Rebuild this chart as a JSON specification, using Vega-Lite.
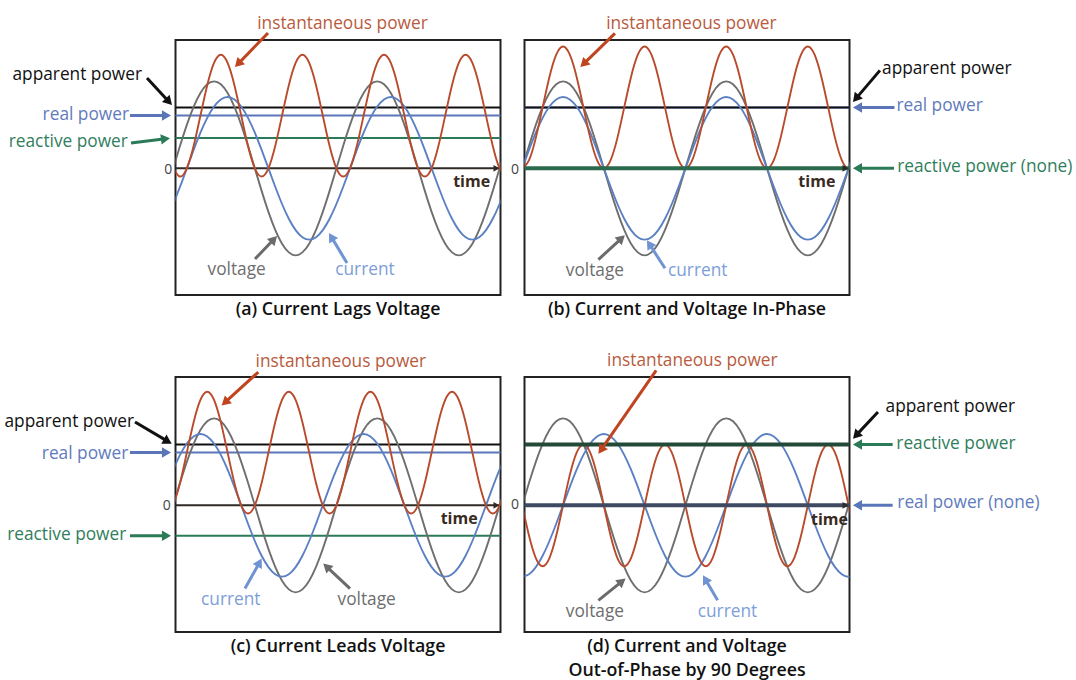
{
  "$schema": "https://vega.github.io/schema/vega-lite/v6.json",
  "background": "white",
  "padding": {"left": 2.5, "top": 14, "right": 5, "bottom": 5},
  "config": {
    "view": {"stroke": "#222222", "strokeWidth": 2},
    "font": "Open Sans",
    "title": {"font": "Open Sans", "fontSize": 17.8, "fontWeight": 600, "color": "#111111", "orient": "bottom", "anchor": "middle", "frame": "group", "offset": 6, "lineHeight": 24}
  },
  "datasets": {
    "volt": [
      {"t":0,"v":0},{"t":15,"v":25.9},{"t":30,"v":50},{"t":45,"v":70.7},{"t":60,"v":86.6},{"t":75,"v":96.6},{"t":90,"v":100},{"t":105,"v":96.6},{"t":120,"v":86.6},{"t":135,"v":70.7},{"t":150,"v":50},{"t":165,"v":25.9},{"t":180,"v":0},{"t":195,"v":-25.9},{"t":210,"v":-50},{"t":225,"v":-70.7},{"t":240,"v":-86.6},{"t":255,"v":-96.6},{"t":270,"v":-100},{"t":285,"v":-96.6},{"t":300,"v":-86.6},{"t":315,"v":-70.7},{"t":330,"v":-50},{"t":345,"v":-25.9},
      {"t":360,"v":0},{"t":375,"v":25.9},{"t":390,"v":50},{"t":405,"v":70.7},{"t":420,"v":86.6},{"t":435,"v":96.6},{"t":450,"v":100},{"t":465,"v":96.6},{"t":480,"v":86.6},{"t":495,"v":70.7},{"t":510,"v":50},{"t":525,"v":25.9},{"t":540,"v":0},{"t":555,"v":-25.9},{"t":570,"v":-50},{"t":585,"v":-70.7},{"t":600,"v":-86.6},{"t":615,"v":-96.6},{"t":630,"v":-100},{"t":645,"v":-96.6},{"t":660,"v":-86.6},{"t":675,"v":-70.7},{"t":690,"v":-50},{"t":705,"v":-25.9},{"t":720,"v":0},{"t":735,"v":25.9}
    ],
    "curves": [
      {"panel":"a","t":0,"i":-41,"p":0},{"panel":"a","t":15,"i":-21.2,"p":-9.4},{"panel":"a","t":30,"i":0,"p":0},{"panel":"a","t":45,"i":21.2,"p":25.6},{"panel":"a","t":60,"i":41,"p":60.6},{"panel":"a","t":75,"i":58,"p":95.6},{"panel":"a","t":90,"i":71,"p":121.2},{"panel":"a","t":105,"i":79.2,"p":130.6},{"panel":"a","t":120,"i":82,"p":121.2},{"panel":"a","t":135,"i":79.2,"p":95.6},{"panel":"a","t":150,"i":71,"p":60.6},{"panel":"a","t":165,"i":58,"p":25.6},
      {"panel":"a","t":180,"i":41,"p":0},{"panel":"a","t":195,"i":21.2,"p":-9.4},{"panel":"a","t":210,"i":0,"p":0},{"panel":"a","t":225,"i":-21.2,"p":25.6},{"panel":"a","t":240,"i":-41,"p":60.6},{"panel":"a","t":255,"i":-58,"p":95.6},{"panel":"a","t":270,"i":-71,"p":121.2},{"panel":"a","t":285,"i":-79.2,"p":130.6},{"panel":"a","t":300,"i":-82,"p":121.2},{"panel":"a","t":315,"i":-79.2,"p":95.6},{"panel":"a","t":330,"i":-71,"p":60.6},{"panel":"a","t":345,"i":-58,"p":25.6},
      {"panel":"a","t":360,"i":-41,"p":0},{"panel":"a","t":375,"i":-21.2,"p":-9.4},{"panel":"a","t":390,"i":0,"p":0},{"panel":"a","t":405,"i":21.2,"p":25.6},{"panel":"a","t":420,"i":41,"p":60.6},{"panel":"a","t":435,"i":58,"p":95.6},{"panel":"a","t":450,"i":71,"p":121.2},{"panel":"a","t":465,"i":79.2,"p":130.6},{"panel":"a","t":480,"i":82,"p":121.2},{"panel":"a","t":495,"i":79.2,"p":95.6},{"panel":"a","t":510,"i":71,"p":60.6},{"panel":"a","t":525,"i":58,"p":25.6},
      {"panel":"a","t":540,"i":41,"p":0},{"panel":"a","t":555,"i":21.2,"p":-9.4},{"panel":"a","t":570,"i":0,"p":0},{"panel":"a","t":585,"i":-21.2,"p":25.6},{"panel":"a","t":600,"i":-41,"p":60.6},{"panel":"a","t":615,"i":-58,"p":95.6},{"panel":"a","t":630,"i":-71,"p":121.2},{"panel":"a","t":645,"i":-79.2,"p":130.6},{"panel":"a","t":660,"i":-82,"p":121.2},{"panel":"a","t":675,"i":-79.2,"p":95.6},{"panel":"a","t":690,"i":-71,"p":60.6},{"panel":"a","t":705,"i":-58,"p":25.6},
      {"panel":"a","t":720,"i":-41,"p":0},{"panel":"a","t":735,"i":-21.2,"p":-9.4},

      {"panel":"b","t":0,"i":0,"p":0},{"panel":"b","t":15,"i":21.2,"p":9.4},{"panel":"b","t":30,"i":41,"p":35},{"panel":"b","t":45,"i":58,"p":70},{"panel":"b","t":60,"i":71,"p":105},{"panel":"b","t":75,"i":79.2,"p":130.6},{"panel":"b","t":90,"i":82,"p":140},{"panel":"b","t":105,"i":79.2,"p":130.6},{"panel":"b","t":120,"i":71,"p":105},{"panel":"b","t":135,"i":58,"p":70},{"panel":"b","t":150,"i":41,"p":35},{"panel":"b","t":165,"i":21.2,"p":9.4},
      {"panel":"b","t":180,"i":0,"p":0},{"panel":"b","t":195,"i":-21.2,"p":9.4},{"panel":"b","t":210,"i":-41,"p":35},{"panel":"b","t":225,"i":-58,"p":70},{"panel":"b","t":240,"i":-71,"p":105},{"panel":"b","t":255,"i":-79.2,"p":130.6},{"panel":"b","t":270,"i":-82,"p":140},{"panel":"b","t":285,"i":-79.2,"p":130.6},{"panel":"b","t":300,"i":-71,"p":105},{"panel":"b","t":315,"i":-58,"p":70},{"panel":"b","t":330,"i":-41,"p":35},{"panel":"b","t":345,"i":-21.2,"p":9.4},
      {"panel":"b","t":360,"i":0,"p":0},{"panel":"b","t":375,"i":21.2,"p":9.4},{"panel":"b","t":390,"i":41,"p":35},{"panel":"b","t":405,"i":58,"p":70},{"panel":"b","t":420,"i":71,"p":105},{"panel":"b","t":435,"i":79.2,"p":130.6},{"panel":"b","t":450,"i":82,"p":140},{"panel":"b","t":465,"i":79.2,"p":130.6},{"panel":"b","t":480,"i":71,"p":105},{"panel":"b","t":495,"i":58,"p":70},{"panel":"b","t":510,"i":41,"p":35},{"panel":"b","t":525,"i":21.2,"p":9.4},
      {"panel":"b","t":540,"i":0,"p":0},{"panel":"b","t":555,"i":-21.2,"p":9.4},{"panel":"b","t":570,"i":-41,"p":35},{"panel":"b","t":585,"i":-58,"p":70},{"panel":"b","t":600,"i":-71,"p":105},{"panel":"b","t":615,"i":-79.2,"p":130.6},{"panel":"b","t":630,"i":-82,"p":140},{"panel":"b","t":645,"i":-79.2,"p":130.6},{"panel":"b","t":660,"i":-71,"p":105},{"panel":"b","t":675,"i":-58,"p":70},{"panel":"b","t":690,"i":-41,"p":35},{"panel":"b","t":705,"i":-21.2,"p":9.4},
      {"panel":"b","t":720,"i":0,"p":0},{"panel":"b","t":735,"i":21.2,"p":9.4},

      {"panel":"c","t":0,"i":41,"p":0},{"panel":"c","t":15,"i":58,"p":25.6},{"panel":"c","t":30,"i":71,"p":60.6},{"panel":"c","t":45,"i":79.2,"p":95.6},{"panel":"c","t":60,"i":82,"p":121.2},{"panel":"c","t":75,"i":79.2,"p":130.6},{"panel":"c","t":90,"i":71,"p":121.2},{"panel":"c","t":105,"i":58,"p":95.6},{"panel":"c","t":120,"i":41,"p":60.6},{"panel":"c","t":135,"i":21.2,"p":25.6},{"panel":"c","t":150,"i":0,"p":0},{"panel":"c","t":165,"i":-21.2,"p":-9.4},
      {"panel":"c","t":180,"i":-41,"p":0},{"panel":"c","t":195,"i":-58,"p":25.6},{"panel":"c","t":210,"i":-71,"p":60.6},{"panel":"c","t":225,"i":-79.2,"p":95.6},{"panel":"c","t":240,"i":-82,"p":121.2},{"panel":"c","t":255,"i":-79.2,"p":130.6},{"panel":"c","t":270,"i":-71,"p":121.2},{"panel":"c","t":285,"i":-58,"p":95.6},{"panel":"c","t":300,"i":-41,"p":60.6},{"panel":"c","t":315,"i":-21.2,"p":25.6},{"panel":"c","t":330,"i":0,"p":0},{"panel":"c","t":345,"i":21.2,"p":-9.4},
      {"panel":"c","t":360,"i":41,"p":0},{"panel":"c","t":375,"i":58,"p":25.6},{"panel":"c","t":390,"i":71,"p":60.6},{"panel":"c","t":405,"i":79.2,"p":95.6},{"panel":"c","t":420,"i":82,"p":121.2},{"panel":"c","t":435,"i":79.2,"p":130.6},{"panel":"c","t":450,"i":71,"p":121.2},{"panel":"c","t":465,"i":58,"p":95.6},{"panel":"c","t":480,"i":41,"p":60.6},{"panel":"c","t":495,"i":21.2,"p":25.6},{"panel":"c","t":510,"i":0,"p":0},{"panel":"c","t":525,"i":-21.2,"p":-9.4},
      {"panel":"c","t":540,"i":-41,"p":0},{"panel":"c","t":555,"i":-58,"p":25.6},{"panel":"c","t":570,"i":-71,"p":60.6},{"panel":"c","t":585,"i":-79.2,"p":95.6},{"panel":"c","t":600,"i":-82,"p":121.2},{"panel":"c","t":615,"i":-79.2,"p":130.6},{"panel":"c","t":630,"i":-71,"p":121.2},{"panel":"c","t":645,"i":-58,"p":95.6},{"panel":"c","t":660,"i":-41,"p":60.6},{"panel":"c","t":675,"i":-21.2,"p":25.6},{"panel":"c","t":690,"i":0,"p":0},{"panel":"c","t":705,"i":21.2,"p":-9.4},
      {"panel":"c","t":720,"i":41,"p":0},{"panel":"c","t":735,"i":58,"p":25.6},

      {"panel":"d","t":0,"i":-82,"p":0},{"panel":"d","t":15,"i":-79.2,"p":-35},{"panel":"d","t":30,"i":-71,"p":-60.6},{"panel":"d","t":45,"i":-58,"p":-70},{"panel":"d","t":60,"i":-41,"p":-60.6},{"panel":"d","t":75,"i":-21.2,"p":-35},{"panel":"d","t":90,"i":0,"p":0},{"panel":"d","t":105,"i":21.2,"p":35},{"panel":"d","t":120,"i":41,"p":60.6},{"panel":"d","t":135,"i":58,"p":70},{"panel":"d","t":150,"i":71,"p":60.6},{"panel":"d","t":165,"i":79.2,"p":35},
      {"panel":"d","t":180,"i":82,"p":0},{"panel":"d","t":195,"i":79.2,"p":-35},{"panel":"d","t":210,"i":71,"p":-60.6},{"panel":"d","t":225,"i":58,"p":-70},{"panel":"d","t":240,"i":41,"p":-60.6},{"panel":"d","t":255,"i":21.2,"p":-35},{"panel":"d","t":270,"i":0,"p":0},{"panel":"d","t":285,"i":-21.2,"p":35},{"panel":"d","t":300,"i":-41,"p":60.6},{"panel":"d","t":315,"i":-58,"p":70},{"panel":"d","t":330,"i":-71,"p":60.6},{"panel":"d","t":345,"i":-79.2,"p":35},
      {"panel":"d","t":360,"i":-82,"p":0},{"panel":"d","t":375,"i":-79.2,"p":-35},{"panel":"d","t":390,"i":-71,"p":-60.6},{"panel":"d","t":405,"i":-58,"p":-70},{"panel":"d","t":420,"i":-41,"p":-60.6},{"panel":"d","t":435,"i":-21.2,"p":-35},{"panel":"d","t":450,"i":0,"p":0},{"panel":"d","t":465,"i":21.2,"p":35},{"panel":"d","t":480,"i":41,"p":60.6},{"panel":"d","t":495,"i":58,"p":70},{"panel":"d","t":510,"i":71,"p":60.6},{"panel":"d","t":525,"i":79.2,"p":35},
      {"panel":"d","t":540,"i":82,"p":0},{"panel":"d","t":555,"i":79.2,"p":-35},{"panel":"d","t":570,"i":71,"p":-60.6},{"panel":"d","t":585,"i":58,"p":-70},{"panel":"d","t":600,"i":41,"p":-60.6},{"panel":"d","t":615,"i":21.2,"p":-35},{"panel":"d","t":630,"i":0,"p":0},{"panel":"d","t":645,"i":-21.2,"p":35},{"panel":"d","t":660,"i":-41,"p":60.6},{"panel":"d","t":675,"i":-58,"p":70},{"panel":"d","t":690,"i":-71,"p":60.6},{"panel":"d","t":705,"i":-79.2,"p":35},
      {"panel":"d","t":720,"i":-82,"p":0},{"panel":"d","t":735,"i":-79.2,"p":-35}
    ],
    "hlines": [
      {"panel":"a","kind":"zero","y":0},{"panel":"a","kind":"reactive","y":35},{"panel":"a","kind":"real","y":60.6},{"panel":"a","kind":"apparent","y":70},
      {"panel":"b","kind":"zero","y":0},{"panel":"b","kind":"real","y":70},{"panel":"b","kind":"apparent","y":70},{"panel":"b","kind":"reactive-none","y":0},
      {"panel":"c","kind":"zero","y":0},{"panel":"c","kind":"reactive","y":-35},{"panel":"c","kind":"real","y":60.6},{"panel":"c","kind":"apparent","y":70},
      {"panel":"d","kind":"zero","y":0},{"panel":"d","kind":"apparent","y":70},{"panel":"d","kind":"real-none","y":0},{"panel":"d","kind":"reactive-thick","y":70}
    ],
    "ann": [
      {"panel":"a","grp":"power","t":209.1,"y":155.5,"t2":143.1,"y2":120.1,"ang":224},
      {"panel":"a","grp":"apparent","t":-57.9,"y":103.8,"t2":-9.6,"y2":76.5,"ang":137},
      {"panel":"a","grp":"real","t":-95.4,"y":60.6,"t2":-14.9,"y2":60.6,"ang":90},
      {"panel":"a","grp":"reactive","t":-93.2,"y":29.1,"t2":-17.1,"y2":33.9,"ang":83},
      {"panel":"a","grp":"voltage","t":180.4,"y":-104.2,"t2":222.1,"y2":-81.6,"ang":44},
      {"panel":"a","grp":"current","t":383.3,"y":-108.8,"t2":348.7,"y2":-78.8,"ang":329},
      {"panel":"a","grp":"axis","t":713,"y":0,"t2":713,"y2":0,"ang":90},
      {"panel":"b","grp":"power","t":204.6,"y":155.1,"t2":135.4,"y2":120,"ang":226},
      {"panel":"b","grp":"apparent","t":789.2,"y":112.6,"t2":736.1,"y2":80.1,"ang":220},
      {"panel":"b","grp":"real","t":821.2,"y":70,"t2":739.6,"y2":70,"ang":270},
      {"panel":"b","grp":"reactive","t":820.1,"y":0,"t2":739.6,"y2":0,"ang":270},
      {"panel":"b","grp":"voltage","t":168,"y":-104.9,"t2":219,"y2":-80.4,"ang":47},
      {"panel":"b","grp":"current","t":314.9,"y":-114.9,"t2":280.5,"y2":-87.1,"ang":327},
      {"panel":"b","grp":"axis","t":713,"y":0,"t2":713,"y2":0,"ang":90},
      {"panel":"c","grp":"power","t":187.7,"y":153.2,"t2":114.2,"y2":118.3,"ang":228},
      {"panel":"c","grp":"apparent","t":-84.3,"y":95.7,"t2":-12,"y2":73.5,"ang":120},
      {"panel":"c","grp":"real","t":-95.4,"y":60.6,"t2":-14.9,"y2":60.6,"ang":90},
      {"panel":"c","grp":"reactive","t":-95.4,"y":-35,"t2":-14.9,"y2":-35,"ang":90},
      {"panel":"c","grp":"current","t":158.3,"y":-95.7,"t2":190.3,"y2":-65.7,"ang":29},
      {"panel":"c","grp":"voltage","t":390,"y":-95.7,"t2":338.3,"y2":-70.5,"ang":313},
      {"panel":"c","grp":"axis","t":713,"y":0,"t2":713,"y2":0,"ang":90},
      {"panel":"d","grp":"power","t":295.5,"y":155.1,"t2":173.8,"y2":63.7,"ang":215},
      {"panel":"d","grp":"apparent","t":784.8,"y":107.2,"t2":736.5,"y2":80.4,"ang":223},
      {"panel":"d","grp":"reactive","t":817.2,"y":70,"t2":739.6,"y2":70,"ang":270},
      {"panel":"d","grp":"real","t":817.2,"y":0,"t2":739.6,"y2":0,"ang":270},
      {"panel":"d","grp":"voltage","t":168,"y":-109.2,"t2":220.1,"y2":-87.4,"ang":51},
      {"panel":"d","grp":"current","t":431,"y":-109.2,"t2":403.8,"y2":-84.9,"ang":330},
      {"panel":"d","grp":"axis","t":713,"y":0,"t2":713,"y2":0,"ang":90}
    ],
    "labels": [
      {"panel":"a","label":"instantaneous power","grp":"power","t":373.4,"y":165.8},
      {"panel":"a","label":"apparent power","grp":"apparent","t":-211.8,"y":107.2},
      {"panel":"a","label":"real power","grp":"real","t":-192.9,"y":61.2},
      {"panel":"a","label":"reactive power","grp":"reactive","t":-231.5,"y":30.6},
      {"panel":"a","label":"0","grp":"zero","t":-10.9,"y":-2},
      {"panel":"a","label":"time","grp":"time","t":658.4,"y":-15.4},
      {"panel":"a","label":"voltage","grp":"voltage","t":140,"y":-116.9},
      {"panel":"a","label":"current","grp":"current","t":423,"y":-116.9},
      {"panel":"b","label":"instantaneous power","grp":"power","t":373.2,"y":165.5},
      {"panel":"b","label":"apparent power","grp":"apparent","t":936.6,"y":114.6},
      {"panel":"b","label":"real power","grp":"real","t":920.7,"y":71.2},
      {"panel":"b","label":"reactive power (none)","grp":"reactive","t":1020.4,"y":1.5},
      {"panel":"b","label":"0","grp":"zero","t":-16,"y":-2},
      {"panel":"b","label":"time","grp":"time","t":650,"y":-15.7},
      {"panel":"b","label":"voltage","grp":"voltage","t":160.3,"y":-118},
      {"panel":"b","label":"current","grp":"current","t":387.1,"y":-118},
      {"panel":"c","label":"instantaneous power","grp":"power","t":369.7,"y":164.7},
      {"panel":"c","label":"apparent power","grp":"apparent","t":-229.5,"y":95.7},
      {"panel":"c","label":"real power","grp":"real","t":-194.6,"y":59.4},
      {"panel":"c","label":"reactive power","grp":"reactive","t":-235,"y":-34.5},
      {"panel":"c","label":"0","grp":"zero","t":-14.4,"y":-0.8},
      {"panel":"c","label":"time","grp":"time","t":630.8,"y":-15.3},
      {"panel":"c","label":"current","grp":"current","t":127,"y":-108.4},
      {"panel":"c","label":"voltage","grp":"voltage","t":426.8,"y":-108.4},
      {"panel":"d","label":"instantaneous power","grp":"power","t":375.2,"y":165.8},
      {"panel":"d","label":"apparent power","grp":"apparent","t":944.5,"y":112.9},
      {"panel":"d","label":"reactive power","grp":"reactive","t":956.7,"y":70.9},
      {"panel":"d","label":"real power (none)","grp":"real","t":984.5,"y":3.1},
      {"panel":"d","label":"0","grp":"zero","t":-16,"y":0},
      {"panel":"d","label":"time","grp":"time","t":677.8,"y":-17.2},
      {"panel":"d","label":"voltage","grp":"voltage","t":160.3,"y":-122.6},
      {"panel":"d","label":"current","grp":"current","t":452.8,"y":-122.6}
    ]
  },
  "columns": 2,
  "bounds": "flush",
  "spacing": {"row": 82, "column": 24},
  "concat": [
    {
      "width": 325, "height": 255,
      "title": {"text": "(a) Current Lags Voltage", "orient": "bottom", "frame": "group", "anchor": "middle"},
      "layer": [
        {"data": {"name": "hlines"}, "transform": [{"filter": "datum.panel === 'a' && indexof(['zero','apparent','real','reactive'], datum.kind) >= 0"}],
         "mark": {"type": "rule", "strokeWidth": 2},
         "encoding": {"y": {"field": "y", "type": "quantitative", "scale": {"domain": [-145.6, 147.5], "nice": false, "zero": false}, "axis": null},
                      "color": {"field": "kind", "type": "nominal", "legend": null, "scale": {"domain": ["zero","apparent","real","reactive","real-none","reactive-none","reactive-thick","power","voltage","current","axis"], "range": ["#2f2a26","#111111","#5a76b8","#2b7a58","#3e4a62","#2b6a4c","#234a38","#c0441f","#6b6b6b","#6f93d3","#2f2a26"]}}}},
        {"data": {"name": "volt"}, "mark": {"type": "line", "color": "#6f6f6f", "strokeWidth": 1.9, "interpolate": "natural", "clip": true},
         "encoding": {"x": {"field": "t", "type": "quantitative", "scale": {"domain": [5, 722], "nice": false, "zero": false}, "axis": null},
                      "y": {"field": "v", "type": "quantitative", "scale": {"domain": [-145.6, 147.5], "nice": false, "zero": false}, "axis": null}}},
        {"data": {"name": "curves"}, "transform": [{"filter": "datum.panel === 'a'"}], "mark": {"type": "line", "color": "#5b80c3", "strokeWidth": 1.9, "interpolate": "natural", "clip": true},
         "encoding": {"x": {"field": "t", "type": "quantitative", "scale": {"domain": [5, 722], "nice": false, "zero": false}, "axis": null},
                      "y": {"field": "i", "type": "quantitative", "scale": {"domain": [-145.6, 147.5], "nice": false, "zero": false}, "axis": null}}},
        {"data": {"name": "curves"}, "transform": [{"filter": "datum.panel === 'a'"}], "mark": {"type": "line", "color": "#b94b2d", "strokeWidth": 1.9, "interpolate": "natural", "clip": true},
         "encoding": {"x": {"field": "t", "type": "quantitative", "scale": {"domain": [5, 722], "nice": false, "zero": false}, "axis": null},
                      "y": {"field": "p", "type": "quantitative", "scale": {"domain": [-145.6, 147.5], "nice": false, "zero": false}, "axis": null}}},
        {"data": {"name": "hlines"}, "transform": [{"filter": "datum.panel === 'a' && indexof(['real-none','reactive-none','reactive-thick'], datum.kind) >= 0"}],
         "mark": {"type": "rule", "strokeWidth": 4},
         "encoding": {"y": {"field": "y", "type": "quantitative", "scale": {"domain": [-145.6, 147.5], "nice": false, "zero": false}, "axis": null},
                      "color": {"field": "kind", "type": "nominal", "legend": null, "scale": {"domain": ["zero","apparent","real","reactive","real-none","reactive-none","reactive-thick","power","voltage","current","axis"], "range": ["#2f2a26","#111111","#5a76b8","#2b7a58","#3e4a62","#2b6a4c","#234a38","#c0441f","#6b6b6b","#6f93d3","#2f2a26"]}}}},
        {"data": {"name": "ann"}, "transform": [{"filter": "datum.panel === 'a' && datum.grp !== 'axis'"}],
         "mark": {"type": "rule", "strokeWidth": 3},
         "encoding": {"x": {"field": "t", "type": "quantitative", "scale": {"domain": [5, 722], "nice": false, "zero": false}, "axis": null},
                      "y": {"field": "y", "type": "quantitative", "scale": {"domain": [-145.6, 147.5], "nice": false, "zero": false}, "axis": null},
                      "x2": {"field": "t2"}, "y2": {"field": "y2"},
                      "color": {"field": "grp", "type": "nominal", "legend": null, "scale": {"domain": ["zero","apparent","real","reactive","real-none","reactive-none","reactive-thick","power","voltage","current","axis"], "range": ["#2f2a26","#111111","#5a76b8","#2b7a58","#3e4a62","#2b6a4c","#234a38","#c0441f","#6b6b6b","#6f93d3","#2f2a26"]}}}},
        {"data": {"name": "ann"}, "transform": [{"filter": "datum.panel === 'a' && datum.grp !== 'axis'"}],
         "mark": {"type": "point", "shape": "triangle-up", "filled": true, "size": 110, "opacity": 1},
         "encoding": {"x": {"field": "t2", "type": "quantitative", "scale": {"domain": [5, 722], "nice": false, "zero": false}, "axis": null},
                      "y": {"field": "y2", "type": "quantitative", "scale": {"domain": [-145.6, 147.5], "nice": false, "zero": false}, "axis": null},
                      "angle": {"field": "ang", "type": "quantitative", "scale": null},
                      "color": {"field": "grp", "type": "nominal", "legend": null, "scale": {"domain": ["zero","apparent","real","reactive","real-none","reactive-none","reactive-thick","power","voltage","current","axis"], "range": ["#2f2a26","#111111","#5a76b8","#2b7a58","#3e4a62","#2b6a4c","#234a38","#c0441f","#6b6b6b","#6f93d3","#2f2a26"]}}}},
        {"data": {"name": "ann"}, "transform": [{"filter": "datum.panel === 'a' && datum.grp === 'axis'"}],
         "mark": {"type": "point", "shape": "triangle-up", "filled": true, "size": 45, "opacity": 1, "color": "#2f2a26"},
         "encoding": {"x": {"field": "t2", "type": "quantitative", "scale": {"domain": [5, 722], "nice": false, "zero": false}, "axis": null},
                      "y": {"field": "y2", "type": "quantitative", "scale": {"domain": [-145.6, 147.5], "nice": false, "zero": false}, "axis": null},
                      "angle": {"field": "ang", "type": "quantitative", "scale": null}}},
        {"data": {"name": "labels"}, "transform": [{"filter": "datum.panel === 'a' && datum.grp !== 'time' && datum.grp !== 'zero'"}],
         "mark": {"type": "text", "fontSize": 17.3, "align": "center", "baseline": "middle"},
         "encoding": {"x": {"field": "t", "type": "quantitative", "scale": {"domain": [5, 722], "nice": false, "zero": false}, "axis": null},
                      "y": {"field": "y", "type": "quantitative", "scale": {"domain": [-145.6, 147.5], "nice": false, "zero": false}, "axis": null},
                      "text": {"field": "label"},
                      "fill": {"field": "grp", "type": "nominal", "legend": null, "scale": {"domain": ["power","apparent","real","reactive","voltage","current","time","zero"], "range": ["#b85b3e","#111111","#5f7bbd","#307e5c","#6e6e6e","#7d9ed8","#3a2a1e","#444444"]}}}},
        {"data": {"name": "labels"}, "transform": [{"filter": "datum.panel === 'a' && datum.grp === 'time'"}],
         "mark": {"type": "text", "fontSize": 16, "fontWeight": "bold", "align": "center", "baseline": "middle", "color": "#3a2a1e"},
         "encoding": {"x": {"field": "t", "type": "quantitative", "scale": {"domain": [5, 722], "nice": false, "zero": false}, "axis": null},
                      "y": {"field": "y", "type": "quantitative", "scale": {"domain": [-145.6, 147.5], "nice": false, "zero": false}, "axis": null},
                      "text": {"field": "label"}}},
        {"data": {"name": "labels"}, "transform": [{"filter": "datum.panel === 'a' && datum.grp === 'zero'"}],
         "mark": {"type": "text", "fontSize": 14, "align": "center", "baseline": "middle", "color": "#444444"},
         "encoding": {"x": {"field": "t", "type": "quantitative", "scale": {"domain": [5, 722], "nice": false, "zero": false}, "axis": null},
                      "y": {"field": "y", "type": "quantitative", "scale": {"domain": [-145.6, 147.5], "nice": false, "zero": false}, "axis": null},
                      "text": {"field": "label"}}}
      ]
    },
    {
      "width": 325, "height": 255,
      "title": {"text": "(b) Current and Voltage In-Phase", "orient": "bottom", "frame": "group", "anchor": "middle"},
      "layer": [
        {"data": {"name": "hlines"}, "transform": [{"filter": "datum.panel === 'b' && indexof(['zero','apparent','real','reactive'], datum.kind) >= 0"}],
         "mark": {"type": "rule", "strokeWidth": 2},
         "encoding": {"y": {"field": "y", "type": "quantitative", "scale": {"domain": [-145.6, 147.5], "nice": false, "zero": false}, "axis": null},
                      "color": {"field": "kind", "type": "nominal", "legend": null, "scale": {"domain": ["zero","apparent","real","reactive","real-none","reactive-none","reactive-thick","power","voltage","current","axis"], "range": ["#2f2a26","#111111","#5a76b8","#2b7a58","#3e4a62","#2b6a4c","#234a38","#c0441f","#6b6b6b","#6f93d3","#2f2a26"]}}}},
        {"data": {"name": "volt"}, "mark": {"type": "line", "color": "#6f6f6f", "strokeWidth": 1.9, "interpolate": "natural", "clip": true},
         "encoding": {"x": {"field": "t", "type": "quantitative", "scale": {"domain": [5, 722], "nice": false, "zero": false}, "axis": null},
                      "y": {"field": "v", "type": "quantitative", "scale": {"domain": [-145.6, 147.5], "nice": false, "zero": false}, "axis": null}}},
        {"data": {"name": "curves"}, "transform": [{"filter": "datum.panel === 'b'"}], "mark": {"type": "line", "color": "#5b80c3", "strokeWidth": 1.9, "interpolate": "natural", "clip": true},
         "encoding": {"x": {"field": "t", "type": "quantitative", "scale": {"domain": [5, 722], "nice": false, "zero": false}, "axis": null},
                      "y": {"field": "i", "type": "quantitative", "scale": {"domain": [-145.6, 147.5], "nice": false, "zero": false}, "axis": null}}},
        {"data": {"name": "curves"}, "transform": [{"filter": "datum.panel === 'b'"}], "mark": {"type": "line", "color": "#b94b2d", "strokeWidth": 1.9, "interpolate": "natural", "clip": true},
         "encoding": {"x": {"field": "t", "type": "quantitative", "scale": {"domain": [5, 722], "nice": false, "zero": false}, "axis": null},
                      "y": {"field": "p", "type": "quantitative", "scale": {"domain": [-145.6, 147.5], "nice": false, "zero": false}, "axis": null}}},
        {"data": {"name": "hlines"}, "transform": [{"filter": "datum.panel === 'b' && indexof(['real-none','reactive-none','reactive-thick'], datum.kind) >= 0"}],
         "mark": {"type": "rule", "strokeWidth": 4},
         "encoding": {"y": {"field": "y", "type": "quantitative", "scale": {"domain": [-145.6, 147.5], "nice": false, "zero": false}, "axis": null},
                      "color": {"field": "kind", "type": "nominal", "legend": null, "scale": {"domain": ["zero","apparent","real","reactive","real-none","reactive-none","reactive-thick","power","voltage","current","axis"], "range": ["#2f2a26","#111111","#5a76b8","#2b7a58","#3e4a62","#2b6a4c","#234a38","#c0441f","#6b6b6b","#6f93d3","#2f2a26"]}}}},
        {"data": {"name": "ann"}, "transform": [{"filter": "datum.panel === 'b' && datum.grp !== 'axis'"}],
         "mark": {"type": "rule", "strokeWidth": 3},
         "encoding": {"x": {"field": "t", "type": "quantitative", "scale": {"domain": [5, 722], "nice": false, "zero": false}, "axis": null},
                      "y": {"field": "y", "type": "quantitative", "scale": {"domain": [-145.6, 147.5], "nice": false, "zero": false}, "axis": null},
                      "x2": {"field": "t2"}, "y2": {"field": "y2"},
                      "color": {"field": "grp", "type": "nominal", "legend": null, "scale": {"domain": ["zero","apparent","real","reactive","real-none","reactive-none","reactive-thick","power","voltage","current","axis"], "range": ["#2f2a26","#111111","#5a76b8","#2b7a58","#3e4a62","#2b6a4c","#234a38","#c0441f","#6b6b6b","#6f93d3","#2f2a26"]}}}},
        {"data": {"name": "ann"}, "transform": [{"filter": "datum.panel === 'b' && datum.grp !== 'axis'"}],
         "mark": {"type": "point", "shape": "triangle-up", "filled": true, "size": 110, "opacity": 1},
         "encoding": {"x": {"field": "t2", "type": "quantitative", "scale": {"domain": [5, 722], "nice": false, "zero": false}, "axis": null},
                      "y": {"field": "y2", "type": "quantitative", "scale": {"domain": [-145.6, 147.5], "nice": false, "zero": false}, "axis": null},
                      "angle": {"field": "ang", "type": "quantitative", "scale": null},
                      "color": {"field": "grp", "type": "nominal", "legend": null, "scale": {"domain": ["zero","apparent","real","reactive","real-none","reactive-none","reactive-thick","power","voltage","current","axis"], "range": ["#2f2a26","#111111","#5a76b8","#2b7a58","#3e4a62","#2b6a4c","#234a38","#c0441f","#6b6b6b","#6f93d3","#2f2a26"]}}}},
        {"data": {"name": "ann"}, "transform": [{"filter": "datum.panel === 'b' && datum.grp === 'axis'"}],
         "mark": {"type": "point", "shape": "triangle-up", "filled": true, "size": 45, "opacity": 1, "color": "#2f2a26"},
         "encoding": {"x": {"field": "t2", "type": "quantitative", "scale": {"domain": [5, 722], "nice": false, "zero": false}, "axis": null},
                      "y": {"field": "y2", "type": "quantitative", "scale": {"domain": [-145.6, 147.5], "nice": false, "zero": false}, "axis": null},
                      "angle": {"field": "ang", "type": "quantitative", "scale": null}}},
        {"data": {"name": "labels"}, "transform": [{"filter": "datum.panel === 'b' && datum.grp !== 'time' && datum.grp !== 'zero'"}],
         "mark": {"type": "text", "fontSize": 17.3, "align": "center", "baseline": "middle"},
         "encoding": {"x": {"field": "t", "type": "quantitative", "scale": {"domain": [5, 722], "nice": false, "zero": false}, "axis": null},
                      "y": {"field": "y", "type": "quantitative", "scale": {"domain": [-145.6, 147.5], "nice": false, "zero": false}, "axis": null},
                      "text": {"field": "label"},
                      "fill": {"field": "grp", "type": "nominal", "legend": null, "scale": {"domain": ["power","apparent","real","reactive","voltage","current","time","zero"], "range": ["#b85b3e","#111111","#5f7bbd","#307e5c","#6e6e6e","#7d9ed8","#3a2a1e","#444444"]}}}},
        {"data": {"name": "labels"}, "transform": [{"filter": "datum.panel === 'b' && datum.grp === 'time'"}],
         "mark": {"type": "text", "fontSize": 16, "fontWeight": "bold", "align": "center", "baseline": "middle", "color": "#3a2a1e"},
         "encoding": {"x": {"field": "t", "type": "quantitative", "scale": {"domain": [5, 722], "nice": false, "zero": false}, "axis": null},
                      "y": {"field": "y", "type": "quantitative", "scale": {"domain": [-145.6, 147.5], "nice": false, "zero": false}, "axis": null},
                      "text": {"field": "label"}}},
        {"data": {"name": "labels"}, "transform": [{"filter": "datum.panel === 'b' && datum.grp === 'zero'"}],
         "mark": {"type": "text", "fontSize": 14, "align": "center", "baseline": "middle", "color": "#444444"},
         "encoding": {"x": {"field": "t", "type": "quantitative", "scale": {"domain": [5, 722], "nice": false, "zero": false}, "axis": null},
                      "y": {"field": "y", "type": "quantitative", "scale": {"domain": [-145.6, 147.5], "nice": false, "zero": false}, "axis": null},
                      "text": {"field": "label"}}}
      ]
    },
    {
      "width": 325, "height": 255,
      "title": {"text": "(c) Current Leads Voltage", "orient": "bottom", "frame": "group", "anchor": "middle"},
      "layer": [
        {"data": {"name": "hlines"}, "transform": [{"filter": "datum.panel === 'c' && indexof(['zero','apparent','real','reactive'], datum.kind) >= 0"}],
         "mark": {"type": "rule", "strokeWidth": 2},
         "encoding": {"y": {"field": "y", "type": "quantitative", "scale": {"domain": [-145.6, 147.5], "nice": false, "zero": false}, "axis": null},
                      "color": {"field": "kind", "type": "nominal", "legend": null, "scale": {"domain": ["zero","apparent","real","reactive","real-none","reactive-none","reactive-thick","power","voltage","current","axis"], "range": ["#2f2a26","#111111","#5a76b8","#2b7a58","#3e4a62","#2b6a4c","#234a38","#c0441f","#6b6b6b","#6f93d3","#2f2a26"]}}}},
        {"data": {"name": "volt"}, "mark": {"type": "line", "color": "#6f6f6f", "strokeWidth": 1.9, "interpolate": "natural", "clip": true},
         "encoding": {"x": {"field": "t", "type": "quantitative", "scale": {"domain": [5, 722], "nice": false, "zero": false}, "axis": null},
                      "y": {"field": "v", "type": "quantitative", "scale": {"domain": [-145.6, 147.5], "nice": false, "zero": false}, "axis": null}}},
        {"data": {"name": "curves"}, "transform": [{"filter": "datum.panel === 'c'"}], "mark": {"type": "line", "color": "#5b80c3", "strokeWidth": 1.9, "interpolate": "natural", "clip": true},
         "encoding": {"x": {"field": "t", "type": "quantitative", "scale": {"domain": [5, 722], "nice": false, "zero": false}, "axis": null},
                      "y": {"field": "i", "type": "quantitative", "scale": {"domain": [-145.6, 147.5], "nice": false, "zero": false}, "axis": null}}},
        {"data": {"name": "curves"}, "transform": [{"filter": "datum.panel === 'c'"}], "mark": {"type": "line", "color": "#b94b2d", "strokeWidth": 1.9, "interpolate": "natural", "clip": true},
         "encoding": {"x": {"field": "t", "type": "quantitative", "scale": {"domain": [5, 722], "nice": false, "zero": false}, "axis": null},
                      "y": {"field": "p", "type": "quantitative", "scale": {"domain": [-145.6, 147.5], "nice": false, "zero": false}, "axis": null}}},
        {"data": {"name": "hlines"}, "transform": [{"filter": "datum.panel === 'c' && indexof(['real-none','reactive-none','reactive-thick'], datum.kind) >= 0"}],
         "mark": {"type": "rule", "strokeWidth": 4},
         "encoding": {"y": {"field": "y", "type": "quantitative", "scale": {"domain": [-145.6, 147.5], "nice": false, "zero": false}, "axis": null},
                      "color": {"field": "kind", "type": "nominal", "legend": null, "scale": {"domain": ["zero","apparent","real","reactive","real-none","reactive-none","reactive-thick","power","voltage","current","axis"], "range": ["#2f2a26","#111111","#5a76b8","#2b7a58","#3e4a62","#2b6a4c","#234a38","#c0441f","#6b6b6b","#6f93d3","#2f2a26"]}}}},
        {"data": {"name": "ann"}, "transform": [{"filter": "datum.panel === 'c' && datum.grp !== 'axis'"}],
         "mark": {"type": "rule", "strokeWidth": 3},
         "encoding": {"x": {"field": "t", "type": "quantitative", "scale": {"domain": [5, 722], "nice": false, "zero": false}, "axis": null},
                      "y": {"field": "y", "type": "quantitative", "scale": {"domain": [-145.6, 147.5], "nice": false, "zero": false}, "axis": null},
                      "x2": {"field": "t2"}, "y2": {"field": "y2"},
                      "color": {"field": "grp", "type": "nominal", "legend": null, "scale": {"domain": ["zero","apparent","real","reactive","real-none","reactive-none","reactive-thick","power","voltage","current","axis"], "range": ["#2f2a26","#111111","#5a76b8","#2b7a58","#3e4a62","#2b6a4c","#234a38","#c0441f","#6b6b6b","#6f93d3","#2f2a26"]}}}},
        {"data": {"name": "ann"}, "transform": [{"filter": "datum.panel === 'c' && datum.grp !== 'axis'"}],
         "mark": {"type": "point", "shape": "triangle-up", "filled": true, "size": 110, "opacity": 1},
         "encoding": {"x": {"field": "t2", "type": "quantitative", "scale": {"domain": [5, 722], "nice": false, "zero": false}, "axis": null},
                      "y": {"field": "y2", "type": "quantitative", "scale": {"domain": [-145.6, 147.5], "nice": false, "zero": false}, "axis": null},
                      "angle": {"field": "ang", "type": "quantitative", "scale": null},
                      "color": {"field": "grp", "type": "nominal", "legend": null, "scale": {"domain": ["zero","apparent","real","reactive","real-none","reactive-none","reactive-thick","power","voltage","current","axis"], "range": ["#2f2a26","#111111","#5a76b8","#2b7a58","#3e4a62","#2b6a4c","#234a38","#c0441f","#6b6b6b","#6f93d3","#2f2a26"]}}}},
        {"data": {"name": "ann"}, "transform": [{"filter": "datum.panel === 'c' && datum.grp === 'axis'"}],
         "mark": {"type": "point", "shape": "triangle-up", "filled": true, "size": 45, "opacity": 1, "color": "#2f2a26"},
         "encoding": {"x": {"field": "t2", "type": "quantitative", "scale": {"domain": [5, 722], "nice": false, "zero": false}, "axis": null},
                      "y": {"field": "y2", "type": "quantitative", "scale": {"domain": [-145.6, 147.5], "nice": false, "zero": false}, "axis": null},
                      "angle": {"field": "ang", "type": "quantitative", "scale": null}}},
        {"data": {"name": "labels"}, "transform": [{"filter": "datum.panel === 'c' && datum.grp !== 'time' && datum.grp !== 'zero'"}],
         "mark": {"type": "text", "fontSize": 17.3, "align": "center", "baseline": "middle"},
         "encoding": {"x": {"field": "t", "type": "quantitative", "scale": {"domain": [5, 722], "nice": false, "zero": false}, "axis": null},
                      "y": {"field": "y", "type": "quantitative", "scale": {"domain": [-145.6, 147.5], "nice": false, "zero": false}, "axis": null},
                      "text": {"field": "label"},
                      "fill": {"field": "grp", "type": "nominal", "legend": null, "scale": {"domain": ["power","apparent","real","reactive","voltage","current","time","zero"], "range": ["#b85b3e","#111111","#5f7bbd","#307e5c","#6e6e6e","#7d9ed8","#3a2a1e","#444444"]}}}},
        {"data": {"name": "labels"}, "transform": [{"filter": "datum.panel === 'c' && datum.grp === 'time'"}],
         "mark": {"type": "text", "fontSize": 16, "fontWeight": "bold", "align": "center", "baseline": "middle", "color": "#3a2a1e"},
         "encoding": {"x": {"field": "t", "type": "quantitative", "scale": {"domain": [5, 722], "nice": false, "zero": false}, "axis": null},
                      "y": {"field": "y", "type": "quantitative", "scale": {"domain": [-145.6, 147.5], "nice": false, "zero": false}, "axis": null},
                      "text": {"field": "label"}}},
        {"data": {"name": "labels"}, "transform": [{"filter": "datum.panel === 'c' && datum.grp === 'zero'"}],
         "mark": {"type": "text", "fontSize": 14, "align": "center", "baseline": "middle", "color": "#444444"},
         "encoding": {"x": {"field": "t", "type": "quantitative", "scale": {"domain": [5, 722], "nice": false, "zero": false}, "axis": null},
                      "y": {"field": "y", "type": "quantitative", "scale": {"domain": [-145.6, 147.5], "nice": false, "zero": false}, "axis": null},
                      "text": {"field": "label"}}}
      ]
    },
    {
      "width": 325, "height": 255,
      "title": {"text": ["(d) Current and Voltage", "Out-of-Phase by 90 Degrees"], "orient": "bottom", "frame": "group", "anchor": "middle"},
      "layer": [
        {"data": {"name": "hlines"}, "transform": [{"filter": "datum.panel === 'd' && indexof(['zero','apparent','real','reactive'], datum.kind) >= 0"}],
         "mark": {"type": "rule", "strokeWidth": 2},
         "encoding": {"y": {"field": "y", "type": "quantitative", "scale": {"domain": [-145.6, 147.5], "nice": false, "zero": false}, "axis": null},
                      "color": {"field": "kind", "type": "nominal", "legend": null, "scale": {"domain": ["zero","apparent","real","reactive","real-none","reactive-none","reactive-thick","power","voltage","current","axis"], "range": ["#2f2a26","#111111","#5a76b8","#2b7a58","#3e4a62","#2b6a4c","#234a38","#c0441f","#6b6b6b","#6f93d3","#2f2a26"]}}}},
        {"data": {"name": "volt"}, "mark": {"type": "line", "color": "#6f6f6f", "strokeWidth": 1.9, "interpolate": "natural", "clip": true},
         "encoding": {"x": {"field": "t", "type": "quantitative", "scale": {"domain": [5, 722], "nice": false, "zero": false}, "axis": null},
                      "y": {"field": "v", "type": "quantitative", "scale": {"domain": [-145.6, 147.5], "nice": false, "zero": false}, "axis": null}}},
        {"data": {"name": "curves"}, "transform": [{"filter": "datum.panel === 'd'"}], "mark": {"type": "line", "color": "#5b80c3", "strokeWidth": 1.9, "interpolate": "natural", "clip": true},
         "encoding": {"x": {"field": "t", "type": "quantitative", "scale": {"domain": [5, 722], "nice": false, "zero": false}, "axis": null},
                      "y": {"field": "i", "type": "quantitative", "scale": {"domain": [-145.6, 147.5], "nice": false, "zero": false}, "axis": null}}},
        {"data": {"name": "curves"}, "transform": [{"filter": "datum.panel === 'd'"}], "mark": {"type": "line", "color": "#b94b2d", "strokeWidth": 1.9, "interpolate": "natural", "clip": true},
         "encoding": {"x": {"field": "t", "type": "quantitative", "scale": {"domain": [5, 722], "nice": false, "zero": false}, "axis": null},
                      "y": {"field": "p", "type": "quantitative", "scale": {"domain": [-145.6, 147.5], "nice": false, "zero": false}, "axis": null}}},
        {"data": {"name": "hlines"}, "transform": [{"filter": "datum.panel === 'd' && indexof(['real-none','reactive-none','reactive-thick'], datum.kind) >= 0"}],
         "mark": {"type": "rule", "strokeWidth": 4},
         "encoding": {"y": {"field": "y", "type": "quantitative", "scale": {"domain": [-145.6, 147.5], "nice": false, "zero": false}, "axis": null},
                      "color": {"field": "kind", "type": "nominal", "legend": null, "scale": {"domain": ["zero","apparent","real","reactive","real-none","reactive-none","reactive-thick","power","voltage","current","axis"], "range": ["#2f2a26","#111111","#5a76b8","#2b7a58","#3e4a62","#2b6a4c","#234a38","#c0441f","#6b6b6b","#6f93d3","#2f2a26"]}}}},
        {"data": {"name": "ann"}, "transform": [{"filter": "datum.panel === 'd' && datum.grp !== 'axis'"}],
         "mark": {"type": "rule", "strokeWidth": 3},
         "encoding": {"x": {"field": "t", "type": "quantitative", "scale": {"domain": [5, 722], "nice": false, "zero": false}, "axis": null},
                      "y": {"field": "y", "type": "quantitative", "scale": {"domain": [-145.6, 147.5], "nice": false, "zero": false}, "axis": null},
                      "x2": {"field": "t2"}, "y2": {"field": "y2"},
                      "color": {"field": "grp", "type": "nominal", "legend": null, "scale": {"domain": ["zero","apparent","real","reactive","real-none","reactive-none","reactive-thick","power","voltage","current","axis"], "range": ["#2f2a26","#111111","#5a76b8","#2b7a58","#3e4a62","#2b6a4c","#234a38","#c0441f","#6b6b6b","#6f93d3","#2f2a26"]}}}},
        {"data": {"name": "ann"}, "transform": [{"filter": "datum.panel === 'd' && datum.grp !== 'axis'"}],
         "mark": {"type": "point", "shape": "triangle-up", "filled": true, "size": 110, "opacity": 1},
         "encoding": {"x": {"field": "t2", "type": "quantitative", "scale": {"domain": [5, 722], "nice": false, "zero": false}, "axis": null},
                      "y": {"field": "y2", "type": "quantitative", "scale": {"domain": [-145.6, 147.5], "nice": false, "zero": false}, "axis": null},
                      "angle": {"field": "ang", "type": "quantitative", "scale": null},
                      "color": {"field": "grp", "type": "nominal", "legend": null, "scale": {"domain": ["zero","apparent","real","reactive","real-none","reactive-none","reactive-thick","power","voltage","current","axis"], "range": ["#2f2a26","#111111","#5a76b8","#2b7a58","#3e4a62","#2b6a4c","#234a38","#c0441f","#6b6b6b","#6f93d3","#2f2a26"]}}}},
        {"data": {"name": "ann"}, "transform": [{"filter": "datum.panel === 'd' && datum.grp === 'axis'"}],
         "mark": {"type": "point", "shape": "triangle-up", "filled": true, "size": 45, "opacity": 1, "color": "#2f2a26"},
         "encoding": {"x": {"field": "t2", "type": "quantitative", "scale": {"domain": [5, 722], "nice": false, "zero": false}, "axis": null},
                      "y": {"field": "y2", "type": "quantitative", "scale": {"domain": [-145.6, 147.5], "nice": false, "zero": false}, "axis": null},
                      "angle": {"field": "ang", "type": "quantitative", "scale": null}}},
        {"data": {"name": "labels"}, "transform": [{"filter": "datum.panel === 'd' && datum.grp !== 'time' && datum.grp !== 'zero'"}],
         "mark": {"type": "text", "fontSize": 17.3, "align": "center", "baseline": "middle"},
         "encoding": {"x": {"field": "t", "type": "quantitative", "scale": {"domain": [5, 722], "nice": false, "zero": false}, "axis": null},
                      "y": {"field": "y", "type": "quantitative", "scale": {"domain": [-145.6, 147.5], "nice": false, "zero": false}, "axis": null},
                      "text": {"field": "label"},
                      "fill": {"field": "grp", "type": "nominal", "legend": null, "scale": {"domain": ["power","apparent","real","reactive","voltage","current","time","zero"], "range": ["#b85b3e","#111111","#5f7bbd","#307e5c","#6e6e6e","#7d9ed8","#3a2a1e","#444444"]}}}},
        {"data": {"name": "labels"}, "transform": [{"filter": "datum.panel === 'd' && datum.grp === 'time'"}],
         "mark": {"type": "text", "fontSize": 16, "fontWeight": "bold", "align": "center", "baseline": "middle", "color": "#3a2a1e"},
         "encoding": {"x": {"field": "t", "type": "quantitative", "scale": {"domain": [5, 722], "nice": false, "zero": false}, "axis": null},
                      "y": {"field": "y", "type": "quantitative", "scale": {"domain": [-145.6, 147.5], "nice": false, "zero": false}, "axis": null},
                      "text": {"field": "label"}}},
        {"data": {"name": "labels"}, "transform": [{"filter": "datum.panel === 'd' && datum.grp === 'zero'"}],
         "mark": {"type": "text", "fontSize": 14, "align": "center", "baseline": "middle", "color": "#444444"},
         "encoding": {"x": {"field": "t", "type": "quantitative", "scale": {"domain": [5, 722], "nice": false, "zero": false}, "axis": null},
                      "y": {"field": "y", "type": "quantitative", "scale": {"domain": [-145.6, 147.5], "nice": false, "zero": false}, "axis": null},
                      "text": {"field": "label"}}}
      ]
    }
  ]
}
